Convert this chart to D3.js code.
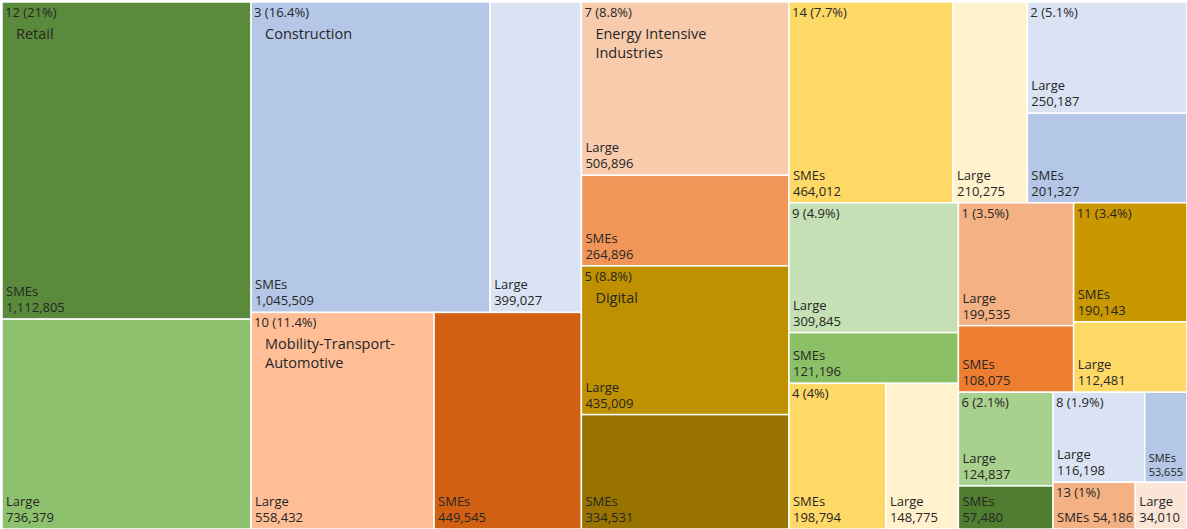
<!DOCTYPE html>
<html>
<head>
<meta charset="utf-8">
<script src="https://cdn.jsdelivr.net/npm/d3@7"></script>
<style>
  html, body { margin: 0; padding: 0; background: #fff; }
  svg { display: block; }
  text { font-family: "Open Sans", "DejaVu Sans", sans-serif; fill: #262626; }
</style>
</head>
<body>
<svg id="chart" width="1187" height="529"></svg>
<script>
// ---- data ----
const groupIds = [12, 3, 10, 7, 5, 14, 2, 9, 4, 1, 11, 6, 8, 13];
const groupNames = ["Retail", "Construction", "Mobility-Transport-\nAutomotive", "Energy Intensive\nIndustries", "Digital", "", "", "", "", "", "", "", "", ""];
const groupShares = ["21%", "16.4%", "11.4%", "8.8%", "8.8%", "7.7%", "5.1%", "4.9%", "4%", "3.5%", "3.4%", "2.1%", "1.9%", "1%"];
const smeValues   = [1112805, 1045509, 449545, 264896, 334531, 464012, 201327, 121196, 198794, 108075, 190143, 57480, 53655, 54186];
const largeValues = [736379, 399027, 558432, 506896, 435009, 210275, 250187, 309845, 148775, 199535, 112481, 124837, 116198, 34010];
const sizeLabels = ["SMEs", "Large"];
const smeColors   = ["#5a8a3b", "#b4c7e7", "#d26012", "#f19658", "#987300", "#ffd966", "#b4c7e7", "#8bc067", "#ffd966", "#ed7d31", "#c99700", "#507d30", "#b4c7e7", "#f4b183"];
const largeColors = ["#8ec16e", "#dae3f3", "#ffbe96", "#f8cbad", "#bf9000", "#fff2cc", "#dae3f3", "#c5e0b4", "#fff2cc", "#f4b183", "#ffd966", "#a9d18e", "#dae3f3", "#fbe5d6"];

// ---- layout ----
const W = 1187, H = 529, OX = 2, OY = 2;
const fmt = d3.format(",");

function squarifyTile(ratio) {
  return function(parent, x0, y0, x1, y1) {
    const nodes = parent.children;
    let i0 = 0, i1 = 0;
    const n = nodes.length;
    let value = parent.value;
    while (i0 < n) {
      const dx = x1 - x0, dy = y1 - y0;
      let sumValue, minValue, maxValue, nodeValue;
      do sumValue = nodes[i1++].value; while (!sumValue && i1 < n);
      minValue = maxValue = sumValue;
      const alpha = Math.max(dy / dx, dx / dy) / (value * ratio);
      let beta = sumValue * sumValue * alpha;
      let minRatio = Math.max(maxValue / beta, beta / minValue);
      for (; i1 < n; ++i1) {
        sumValue += nodeValue = nodes[i1].value;
        if (nodeValue < minValue) minValue = nodeValue;
        if (nodeValue > maxValue) maxValue = nodeValue;
        beta = sumValue * sumValue * alpha;
        const newRatio = Math.max(maxValue / beta, beta / minValue);
        if (newRatio > minRatio) { sumValue -= nodeValue; break; }
        minRatio = newRatio;
      }
      const row = {value: sumValue, children: nodes.slice(i0, i1)};
      if (dx < dy) {
        const ny = value ? y0 + dy * sumValue / value : y1;
        d3.treemapDice(row, x0, y0, x1, ny);
        y0 = ny;
      } else {
        const nx = value ? x0 + dx * sumValue / value : x1;
        d3.treemapSlice(row, x0, y0, nx, y1);
        x0 = nx;
      }
      value -= sumValue;
      i0 = i1;
    }
  };
}

const data = {
  children: groupIds.map((id, i) => ({
    id, idx: i, name: groupNames[i], share: groupShares[i],
    children: [
      {size: sizeLabels[0], value: smeValues[i], color: smeColors[i]},
      {size: sizeLabels[1], value: largeValues[i], color: largeColors[i]}
    ]
  }))
};

const root = d3.hierarchy(data)
  .sum(d => d.children ? 0 : d.value)
  .sort((a, b) => b.value - a.value);

d3.treemap()
  .tile(squarifyTile(0.9))
  .size([W - OX, H - OY])(root);

const svg = d3.select("#chart").append("g").attr("transform", `translate(${OX},${OY})`);

const leaves = root.leaves();
svg.append("g").selectAll("rect")
  .data(leaves)
  .join("rect")
  .attr("x", d => d.x0)
  .attr("y", d => d.y0)
  .attr("width", d => d.x1 - d.x0)
  .attr("height", d => d.y1 - d.y0)
  .attr("fill", d => d.data.color)
  .attr("stroke", "#fff")
  .attr("stroke-width", 1.5);

// leaf labels
const lg = svg.append("g");
leaves.forEach(d => {
  const g = d.parent;
  const w = d.x1 - d.x0, h = d.y1 - d.y0;
  const hostsLabel = Math.abs(d.x0 - g.x0) < 0.5 && Math.abs(d.y0 - g.y0) < 0.5;
  const small = w < 47;
  const fs = small ? 11 : 13;
  const x = d.x0 + 4;
  if (hostsLabel && h < 50) {
    lg.append("text").attr("x", x).attr("y", d.y1 - 7).attr("font-size", fs)
      .text(d.data.size + " " + fmt(d.data.value));
  } else {
    lg.append("text").attr("x", x).attr("y", d.y1 - (small ? 20 : 23)).attr("font-size", fs)
      .text(d.data.size);
    lg.append("text").attr("x", x).attr("y", d.y1 - (small ? 6 : 7)).attr("font-size", fs)
      .text(fmt(d.data.value));
  }
});

// group labels
const gg = svg.append("g");
root.children.forEach(g => {
  gg.append("text").attr("x", g.x0 + 3).attr("y", g.y0 + 15).attr("font-size", 13)
    .text(g.data.id + " (" + g.data.share + ")");
  if (g.data.name) {
    g.data.name.split("\n").forEach((line, k) => {
      gg.append("text").attr("x", g.x0 + 14).attr("y", g.y0 + 37 + k * 19).attr("font-size", 14.5)
        .text(line);
    });
  }
});
</script>
</body>
</html>
